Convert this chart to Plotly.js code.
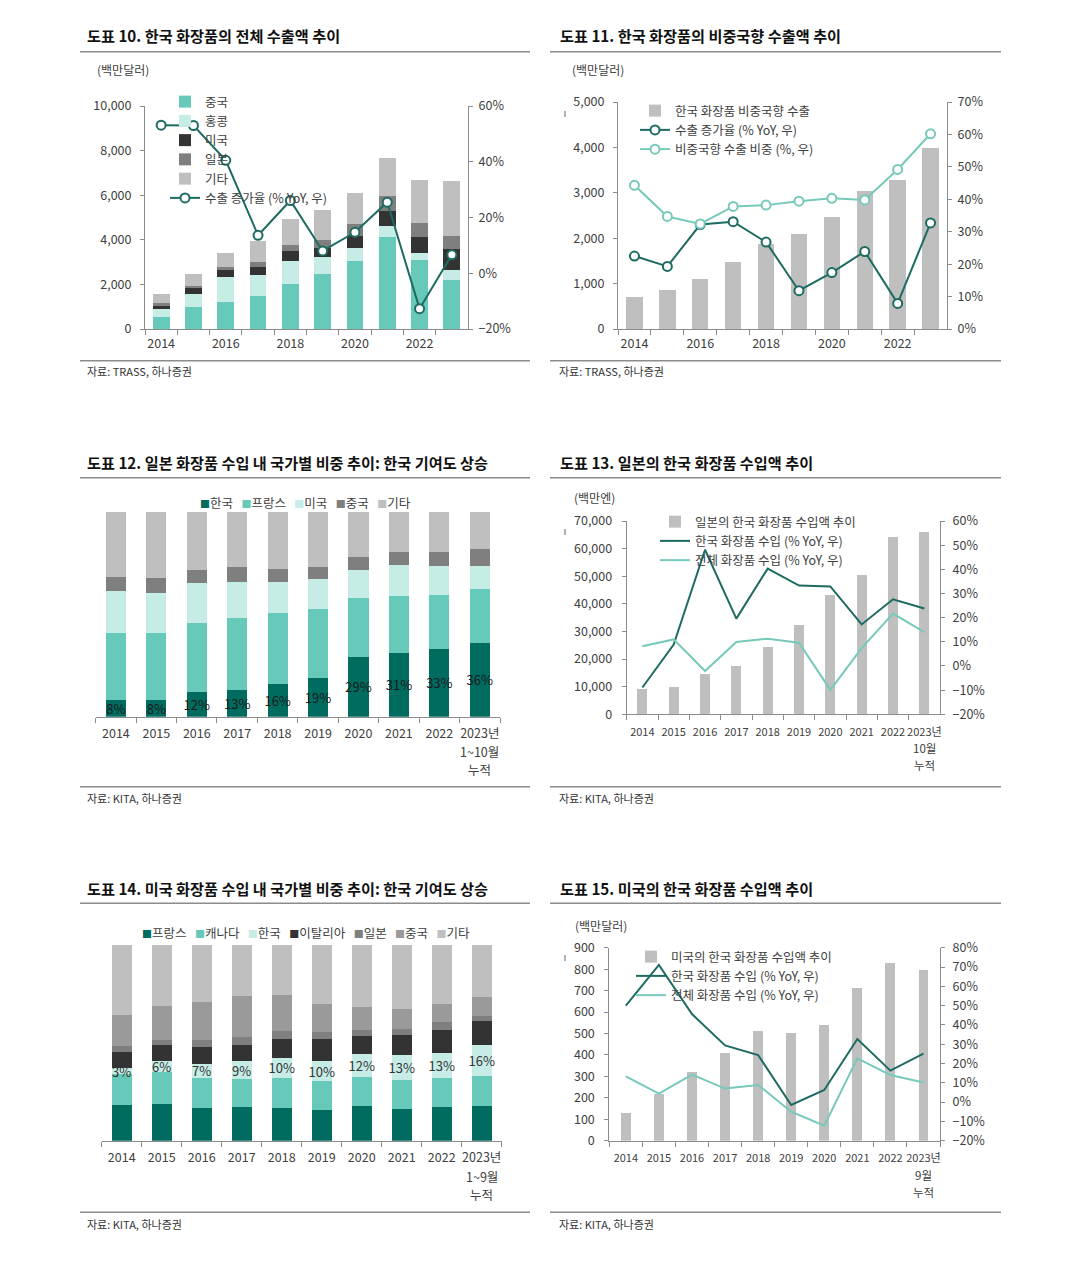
<!DOCTYPE html>
<html>
<head>
<meta charset="utf-8">
<script src="https://cdn.plot.ly/plotly-3.0.1.min.js"></script>
<style>
html,body{margin:0;padding:0;background:#fff;}
#chart{width:1079px;height:1269px;}
</style>
</head>
<body>
<div id="chart"></div>
<script>
// ================= DATA =================
const years = ['2014','2015','2016','2017','2018','2019','2020','2021','2022','2023'];
const yearTicks10 = ['2014','','2016','','2018','','2020','','2022',''];
const cats12 = ['2014','2015','2016','2017','2018','2019','2020','2021','2022','2023년 1~10월 누적'];
const ticks12 = ['2014','2015','2016','2017','2018','2019','2020','2021','2022','2023년'];
const sub12 = ['1~10월','누적'];
const cats13 = ['2014','2015','2016','2017','2018','2019','2020','2021','2022','2023년 10월 누적'];
const ticks13 = ['2014','2015','2016','2017','2018','2019','2020','2021','2022','2023년'];
const sub13 = ['10월','누적'];
const cats14 = ['2014','2015','2016','2017','2018','2019','2020','2021','2022','2023년 1~9월 누적'];
const ticks14 = ['2014','2015','2016','2017','2018','2019','2020','2021','2022','2023년'];
const sub14 = ['1~9월','누적'];
const cats15 = ['2014','2015','2016','2017','2018','2019','2020','2021','2022','2023년 9월 누적'];
const ticks15 = ['2014','2015','2016','2017','2018','2019','2020','2021','2022','2023년'];
const sub15 = ['9월','누적'];

// Chart 10: 한국 화장품의 전체 수출액 (백만달러) + 수출 증가율 (%)
const names10 = ['중국','홍콩','미국','일본','기타'];
const china10 = [540,1000,1220,1460,2010,2450,3040,4120,3090,2210];
const hk10    = [340,570,1090,960,1060,770,600,490,340,420];
const us10    = [160,250,330,360,440,420,510,670,690,950];
const japan10 = [110,110,150,210,240,360,550,680,630,610];
const other10 = [420,520,640,950,1190,1330,1420,1730,1950,2440];
const growth10 = [53.1,53.0,40.5,13.6,26.1,8.0,14.7,25.5,-12.7,6.6];
const growthName10 = '수출 증가율 (% YoY, 우)';

// Chart 11: 비중국향 수출액 (백만달러), 수출 증가율, 비중
const bars11 = [710,850,1110,1480,1880,2100,2460,3050,3290,3980];
const growth11 = [22.5,19.3,32.2,33.1,26.8,11.8,17.4,23.9,7.9,32.7];
const share11 = [44.3,34.7,32.4,37.8,38.2,39.4,40.3,39.8,49.2,60.2];
const names11 = ['한국 화장품 비중국향 수출','수출 증가율 (% YoY, 우)','비중국향 수출 비중 (%, 우)'];

// Chart 12: 일본 화장품 수입 내 국가별 비중 (%)
const names12 = ['한국','프랑스','미국','중국','기타'];
const korea12  = [8,8,12,13,16,19,29,31,33,36];
const france12 = [32.7,32.7,33.5,35.3,34.4,33.7,29,27.9,26.5,26.3];
const us12     = [20.8,19.5,19.5,17.2,15.1,14.5,13.5,14.9,13.8,11.4];
const china12  = [6.5,7.4,6.5,7.3,6.7,6.0,6.5,6.7,7.2,8.1];
const other12  = [32,32.4,28.5,27.2,27.8,26.8,22,19.5,19.5,18.2];

// Chart 13: 일본의 한국 화장품 수입액 (백만엔) + YoY
const bars13 = [9200,9800,14600,17400,24500,32300,43200,50400,64100,66100];
const korea13 = [-8.9,8.9,48.1,19.6,40.3,33.3,32.9,17.2,27.6,23.8];
const total13 = [8.2,11.0,-2.1,9.9,11.3,9.6,-9.9,7.4,21.7,14.0];
const names13 = ['일본의 한국 화장품 수입액 추이','한국 화장품 수입 (% YoY, 우)','전체 화장품 수입 (% YoY, 우)'];

// Chart 14: 미국 화장품 수입 내 국가별 비중 (%)
const names14 = ['프랑스','캐나다','한국','이탈리아','일본','중국','기타'];
const france14 = [18.2,18.9,16.9,17.4,16.9,15.7,17.7,16.2,17.2,17.7];
const canada14 = [15.7,16.0,15.3,14.1,15.3,14.8,14.8,14.8,14.8,15.2];
const korea14  = [3,6,7,9,10,10,12,13,13,16];
const italy14  = [8.6,8.0,8.7,8.6,9.9,11.3,9.2,10.0,11.7,12.3];
const japan14  = [3.1,2.7,3.4,3.7,4.1,3.9,2.9,3.1,4.1,2.7];
const china14  = [15.6,17.4,19.4,21.3,18.2,14.1,11.9,10.2,9.0,9.7];
const other14  = [35.8,31.0,29.3,25.9,25.6,30.2,31.5,32.7,30.2,26.4];

// Chart 15: 미국의 한국 화장품 수입액 (백만달러) + YoY
const bars15 = [128,218,320,411,513,504,538,711,829,795];
const korea15 = [50.0,71.1,45.6,29.4,24.4,-1.5,6.3,32.7,16.3,25.1];
const total15 = [13.3,4.4,14.2,7.0,8.9,-5.0,-12.2,22.7,14.0,10.2];
const names15 = ['미국의 한국 화장품 수입액 추이','한국 화장품 수입 (% YoY, 우)','전체 화장품 수입 (% YoY, 우)'];

// ================= STYLE =================
const W = 1079, H = 1269;
const fx = p => p / W;
const fy = p => 1 - p / H;
const FONT = '"Noto Sans CJK KR", "Noto Sans", sans-serif';
const AX = '#8c8c8c', TX = '#404040';
const C_DARK = '#006b5f', C_TEAL = '#66c9b9', C_LIGHT = '#c6ece6', C_BLACK = '#333333';
const C_GRAY1 = '#7f7f7f', C_GRAY2 = '#9a9a9a', C_GRAY3 = '#bfbfbf';
const C_LINE_D = '#1d6b61', C_LINE_L = '#76c9bb';

function xAxis(l, r, anchor, cats, ticktext, extra) {
  return Object.assign({
    domain: [fx(l), fx(r)], anchor: anchor, type: 'category', range: [-0.5, 9.5],
    showgrid: false, zeroline: false, showline: true, linecolor: AX, linewidth: 1,
    ticks: 'outside', ticklen: 5, tickwidth: 1, tickcolor: AX, tickson: 'boundaries',
    tickmode: 'array', tickvals: cats, ticktext: ticktext, tickangle: 0,
    tickfont: {size: 12.5, color: TX}, ticklabelstandoff: 3, fixedrange: true
  }, extra || {});
}
function yAxis(top, bottom, extra) {
  return Object.assign({
    domain: [fy(bottom), fy(top)], showgrid: false, zeroline: false, showline: true,
    linecolor: AX, linewidth: 1, ticks: 'outside', ticklen: 4, tickwidth: 1, tickcolor: AX,
    tickfont: {size: 12.5, color: TX}, fixedrange: true
  }, extra);
}

const traces = [];
// Chart 10
[china10, hk10, us10, japan10, other10].forEach((s, i) => {
  traces.push({type: 'bar', x: years, y: s, name: names10[i], width: 0.52,
    marker: {color: [C_TEAL, C_LIGHT, C_BLACK, C_GRAY1, C_GRAY3][i]},
    xaxis: 'x', yaxis: 'y', legend: 'legend'});
});
traces.push({type: 'scatter', mode: 'lines+markers', x: years, y: growth10, name: growthName10,
  xaxis: 'x', yaxis: 'y2', legend: 'legend', line: {color: C_LINE_D, width: 2},
  marker: {size: 9, color: '#ffffff', line: {color: C_LINE_D, width: 2}}});

// Chart 11
traces.push({type: 'bar', x: years, y: bars11, name: names11[0], width: 0.5,
  marker: {color: C_GRAY3}, xaxis: 'x2', yaxis: 'y3', legend: 'legend2'});
traces.push({type: 'scatter', mode: 'lines+markers', x: years, y: growth11, name: names11[1],
  xaxis: 'x2', yaxis: 'y4', legend: 'legend2', line: {color: C_LINE_D, width: 2},
  marker: {size: 9, color: '#ffffff', line: {color: C_LINE_D, width: 2}}});
traces.push({type: 'scatter', mode: 'lines+markers', x: years, y: share11, name: names11[2],
  xaxis: 'x2', yaxis: 'y4', legend: 'legend2', line: {color: C_LINE_L, width: 2},
  marker: {size: 9, color: '#ffffff', line: {color: C_LINE_L, width: 2}}});

// Chart 12
const colors12 = [C_DARK, C_TEAL, C_LIGHT, C_GRAY1, C_GRAY3];
[korea12, france12, us12, china12, other12].forEach((s, i) => {
  const t = {type: 'bar', x: cats12, y: s, name: names12[i], width: 0.5,
    marker: {color: colors12[i]}, xaxis: 'x3', yaxis: 'y5', showlegend: false};
  if (i === 0) Object.assign(t, {texttemplate: '%{y}%', textposition: 'inside',
    insidetextanchor: 'middle', textangle: 0, constraintext: 'none',
    textfont: {size: 13, color: '#1a1a1a', family: FONT}});
  traces.push(t);
});

// Chart 13
traces.push({type: 'bar', x: cats13, y: bars13, name: names13[0], width: 0.32,
  marker: {color: C_GRAY3}, xaxis: 'x4', yaxis: 'y6', legend: 'legend3'});
traces.push({type: 'scatter', mode: 'lines', x: cats13, y: korea13, name: names13[1],
  xaxis: 'x4', yaxis: 'y7', legend: 'legend3', line: {color: C_LINE_D, width: 2}});
traces.push({type: 'scatter', mode: 'lines', x: cats13, y: total13, name: names13[2],
  xaxis: 'x4', yaxis: 'y7', legend: 'legend3', line: {color: C_LINE_L, width: 2}});

// Chart 14
const colors14 = [C_DARK, C_TEAL, C_LIGHT, C_BLACK, C_GRAY1, C_GRAY2, C_GRAY3];
[france14, canada14, korea14, italy14, japan14, china14, other14].forEach((s, i) => {
  const t = {type: 'bar', x: cats14, y: s, name: names14[i], width: 0.5,
    marker: {color: colors14[i]}, xaxis: 'x5', yaxis: 'y8', showlegend: false};
  if (i === 2) Object.assign(t, {texttemplate: '%{y}%', textposition: 'inside',
    insidetextanchor: 'middle', textangle: 0, constraintext: 'none',
    textfont: {size: 13, color: '#333333', family: FONT}});
  traces.push(t);
});

// Chart 15
traces.push({type: 'bar', x: cats15, y: bars15, name: names15[0], width: 0.3,
  marker: {color: C_GRAY3}, xaxis: 'x6', yaxis: 'y9', legend: 'legend4'});
traces.push({type: 'scatter', mode: 'lines', x: cats15, y: korea15, name: names15[1],
  xaxis: 'x6', yaxis: 'y10', legend: 'legend4', line: {color: C_LINE_D, width: 2}});
traces.push({type: 'scatter', mode: 'lines', x: cats15, y: total15, name: names15[2],
  xaxis: 'x6', yaxis: 'y10', legend: 'legend4', line: {color: C_LINE_L, width: 2}});

// ================= LAYOUT =================
function legendAt(x, y) {
  return {x: fx(x), y: fy(y), xanchor: 'left', yanchor: 'top', bgcolor: 'rgba(0,0,0,0)',
    borderwidth: 0, font: {size: 12.5, color: TX, family: FONT}, traceorder: 'normal',
    itemwidth: 30, tracegroupgap: 0, orientation: 'v'};
}
function sqLegend(names, colors) {
  return names.map((n, i) => '<span style="color:' + colors[i] + ';font-size:10px">■</span>' + n)
    .join('\u00a0\u00a0\u00a0');
}
function txt(text, x, y, size, color, anchor) {
  return {text: text, x: fx(x), y: fy(y), xref: 'paper', yref: 'paper', xanchor: anchor || 'left',
    yanchor: 'middle', showarrow: false, font: {size: size, color: color, family: FONT}};
}
function subLabel(text, xref, cat, y, size) {
  return {text: text, x: cat, xref: xref, y: fy(y), yref: 'paper', xanchor: 'center',
    yanchor: 'middle', showarrow: false, font: {size: size, color: TX, family: FONT}};
}
function hline(x0, x1, y) {
  return {type: 'line', xref: 'paper', yref: 'paper', x0: fx(x0), x1: fx(x1), y0: fy(y), y1: fy(y),
    line: {color: '#8c8c8c', width: 1.5}};
}
function vmark(x, y0, y1) {
  return {type: 'line', xref: 'paper', yref: 'paper', x0: fx(x), x1: fx(x), y0: fy(y0), y1: fy(y1),
    line: {color: '#666', width: 1}};
}
const SMALL = {size: 11, color: TX, family: FONT};

const layout = {
  width: W, height: H, margin: {l: 0, r: 0, t: 0, b: 0},
  paper_bgcolor: '#ffffff', plot_bgcolor: 'rgba(0,0,0,0)',
  font: {family: FONT, size: 12.5, color: TX},
  barmode: 'stack', showlegend: true, hovermode: false,

  // Chart 10
  xaxis: xAxis(145, 468, 'y', years, yearTicks10),
  yaxis: yAxis(106, 329, {anchor: 'x', range: [0, 10000], tick0: 0, dtick: 2000, tickformat: ',d', ticklabelstandoff: 6}),
  yaxis2: yAxis(106, 329, {anchor: 'x', overlaying: 'y', side: 'right', range: [-20, 60], tick0: 0, dtick: 20, ticksuffix: '%', ticklabelstandoff: 3}),
  // Chart 11
  xaxis2: xAxis(618, 947, 'y3', years, yearTicks10),
  yaxis3: yAxis(102, 329, {anchor: 'x2', range: [0, 5000], tick0: 0, dtick: 1000, tickformat: ',d', ticklabelstandoff: 6}),
  yaxis4: yAxis(102, 329, {anchor: 'x2', overlaying: 'y3', side: 'right', range: [0, 70], tick0: 0, dtick: 10, ticksuffix: '%', ticklabelstandoff: 3}),
  // Chart 12
  xaxis3: xAxis(95.7, 500, 'y5', cats12, ticks12, {ticklabelstandoff: 5}),
  yaxis5: {domain: [fy(716.7), fy(511.7)], anchor: 'x3', range: [0, 100], visible: false, fixedrange: true},
  // Chart 13
  xaxis4: xAxis(626.7, 940, 'y6', cats13, ticks13, {tickfont: SMALL, ticklabelstandoff: 7}),
  yaxis6: yAxis(521, 714.3, {anchor: 'x4', range: [0, 70000], tick0: 0, dtick: 10000, tickformat: ',d', ticklabelstandoff: 7}),
  yaxis7: yAxis(521, 714.3, {anchor: 'x4', overlaying: 'y6', side: 'right', range: [-20, 60], tick0: 0, dtick: 10, ticksuffix: '%', ticklabelstandoff: 5}),
  // Chart 14
  xaxis5: xAxis(101.7, 501.7, 'y8', cats14, ticks14, {ticklabelstandoff: 5}),
  yaxis8: {domain: [fy(1140.7), fy(945)], anchor: 'x5', range: [0, 100], visible: false, fixedrange: true},
  // Chart 15
  xaxis6: xAxis(609.3, 940, 'y9', cats15, ticks15, {tickfont: SMALL, ticklabelstandoff: 7}),
  yaxis9: yAxis(947.7, 1140.7, {anchor: 'x6', range: [0, 900], tick0: 0, dtick: 100, ticklabelstandoff: 7}),
  yaxis10: yAxis(947.7, 1140.7, {anchor: 'x6', overlaying: 'y9', side: 'right', range: [-20, 80], tick0: 0, dtick: 10, ticksuffix: '%', ticklabelstandoff: 5}),

  legend: legendAt(165, 87),
  legend2: legendAt(635, 96),
  legend3: legendAt(655, 507),
  legend4: legendAt(631, 942),

  shapes: [
    hline(80, 530, 51.7), hline(80, 530, 360.7),
    hline(550, 1001, 51.7), hline(550, 1001, 360.7),
    hline(80, 530, 477.7), hline(80, 530, 786.7),
    hline(550, 1001, 477.7), hline(550, 1001, 786.7),
    hline(80, 530, 903.3), hline(80, 530, 1212.3),
    hline(550, 1001, 903.3), hline(550, 1001, 1212.3),
    vmark(565, 111, 117), vmark(565, 529, 535), vmark(565, 955, 961)
  ],
  annotations: [
    txt('<b>도표 10. 한국 화장품의 전체 수출액 추이</b>', 85, 35, 15.2, '#111'),
    txt('<b>도표 11. 한국 화장품의 비중국향 수출액 추이</b>', 558, 35, 15.2, '#111'),
    txt('<b>도표 12. 일본 화장품 수입 내 국가별 비중 추이: 한국 기여도 상승</b>', 85, 462, 15.2, '#111'),
    txt('<b>도표 13. 일본의 한국 화장품 수입액 추이</b>', 558, 462, 15.2, '#111'),
    txt('<b>도표 14. 미국 화장품 수입 내 국가별 비중 추이: 한국 기여도 상승</b>', 85, 888, 15.2, '#111'),
    txt('<b>도표 15. 미국의 한국 화장품 수입액 추이</b>', 558, 888, 15.2, '#111'),
    txt('(백만달러)', 95, 70, 12, TX),
    txt('(백만달러)', 570, 70, 12, TX),
    txt('(백만엔)', 572, 497, 12, TX),
    txt('(백만달러)', 573, 925, 12, TX),
    txt('자료: TRASS, 하나증권', 85, 371, 11, '#333'),
    txt('자료: TRASS, 하나증권', 557, 371, 11, '#333'),
    txt('자료: KITA, 하나증권', 85, 798, 11, '#333'),
    txt('자료: KITA, 하나증권', 557, 798, 11, '#333'),
    txt('자료: KITA, 하나증권', 85, 1224, 11, '#333'),
    txt('자료: KITA, 하나증권', 557, 1224, 11, '#333'),
    txt(sqLegend(names12, colors12), 305, 502, 12.5, TX, 'center'),
    txt(sqLegend(names14, colors14), 306, 933, 12.5, TX, 'center'),
    subLabel(sub12[0], 'x3', cats12[9], 751, 12.5),
    subLabel(sub12[1], 'x3', cats12[9], 769, 12.5),
    subLabel(sub13[0], 'x4', cats13[9], 748, 11.5),
    subLabel(sub13[1], 'x4', cats13[9], 765, 11.5),
    subLabel(sub14[0], 'x5', cats14[9], 1176, 12.5),
    subLabel(sub14[1], 'x5', cats14[9], 1194, 12.5),
    subLabel(sub15[0], 'x6', cats15[9], 1175, 11.5),
    subLabel(sub15[1], 'x6', cats15[9], 1192, 11.5)
  ]
};

Plotly.newPlot('chart', traces, layout, {staticPlot: true, displayModeBar: false});
</script>
</body>
</html>
